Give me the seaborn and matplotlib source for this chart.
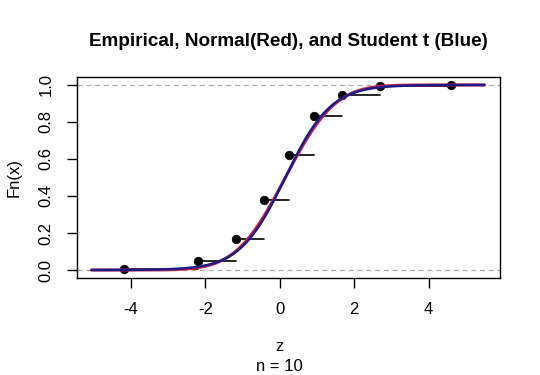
import math
import numpy as np
import pandas as pd
import matplotlib
matplotlib.use("Agg")
import matplotlib.pyplot as plt
import seaborn as sns

# Empirical step points
ecdf_z = [-4.2, -2.2, -1.19, -0.42, 0.25, 0.91, 1.66, 2.69, 4.6]
ecdf_fn = [0.003, 0.05, 0.17, 0.38, 0.62, 0.83, 0.945, 0.995, 1.0]

# Fitted distributions (parameters estimated from the curves)
norm_mean, norm_sd = 0.15, 1.05
t_loc, t_scale, t_df = 0.15, 0.95, 9
z_from, z_to = -5.06, 5.5

x_ticks = [-4, -2, 0, 2, 4]
y_ticks = [0.0, 0.2, 0.4, 0.6, 0.8, 1.0]
n_obs = 10

sns.set_theme(style="ticks")
plt.rcParams['font.family'] = ['Liberation Sans', 'DejaVu Sans']
plt.rcParams['text.color'] = 'black'


def normal_cdf(z):
    return np.array([0.5 * (1 + math.erf((v - norm_mean) / (norm_sd * math.sqrt(2)))) for v in z])


def student_cdf(z):
    grid = np.linspace(-80, 80, 400001)
    dens = (1 + grid ** 2 / t_df) ** (-(t_df + 1) / 2)
    cum = np.concatenate([[0], np.cumsum((dens[1:] + dens[:-1]) / 2 * np.diff(grid))])
    cum = cum / cum[-1]
    return np.interp((np.asarray(z) - t_loc) / t_scale, grid, cum)


zz = np.linspace(z_from, z_to, 400)
curves = pd.DataFrame({"z": zz, "normal": normal_cdf(zz), "student": student_cdf(zz)})
pts = pd.DataFrame({"z": ecdf_z, "fn": ecdf_fn})

fig = plt.figure(figsize=(5.4, 3.75), dpi=100)
ax = fig.add_axes([0.1426, 0.2587, 0.7834, 0.536])

ax.axhline(0, color="#aaaaaa", lw=0.9, ls=(0, (4, 3)))
ax.axhline(1, color="#aaaaaa", lw=0.9, ls=(0, (4, 3)))

# step segments of the ECDF
seg_start = [z_from] + ecdf_z
seg_end = ecdf_z + [z_to]
seg_y = [0.0] + ecdf_fn
for a, b, yv in zip(seg_start, seg_end, seg_y):
    ax.plot([a, b], [yv, yv], color="black", lw=1.2)

sns.scatterplot(data=pts, x="z", y="fn", color="black", s=38, edgecolor="black", zorder=3, ax=ax)
sns.lineplot(data=curves, x="z", y="normal", color="#c8264a", lw=2.2, zorder=4, ax=ax)
sns.lineplot(data=curves, x="z", y="student", color="#1e1a8a", lw=1.8, zorder=5, ax=ax)

ax.set_xlim(-5.45, 5.92)
ax.set_ylim(-0.043, 1.043)
ax.set_xticks(x_ticks)
ax.set_xticklabels([str(t) for t in x_ticks])
ax.set_yticks(y_ticks)
ax.set_yticklabels([f"{t:.1f}" for t in y_ticks], rotation=90, va="center")
ax.tick_params(direction="out", length=7, width=1, labelsize=12, colors="black", pad=10)
for s in ax.spines.values():
    s.set_visible(True)
    s.set_color("black")
    s.set_linewidth(1)

ax.set_xlabel("")
ax.set_ylabel("Fn(x)", fontsize=12, labelpad=12, color="black")
fig.text(0.517, 0.065, "z", ha="center", fontsize=12)
fig.text(0.517, 0.01, f"n = {n_obs}", ha="center", fontsize=12)
fig.text(0.535, 0.878, "Empirical, Normal(Red), and Student t (Blue)",
         ha="center", fontsize=13.6, fontweight="bold")

fig.savefig("out.png", dpi=100)
